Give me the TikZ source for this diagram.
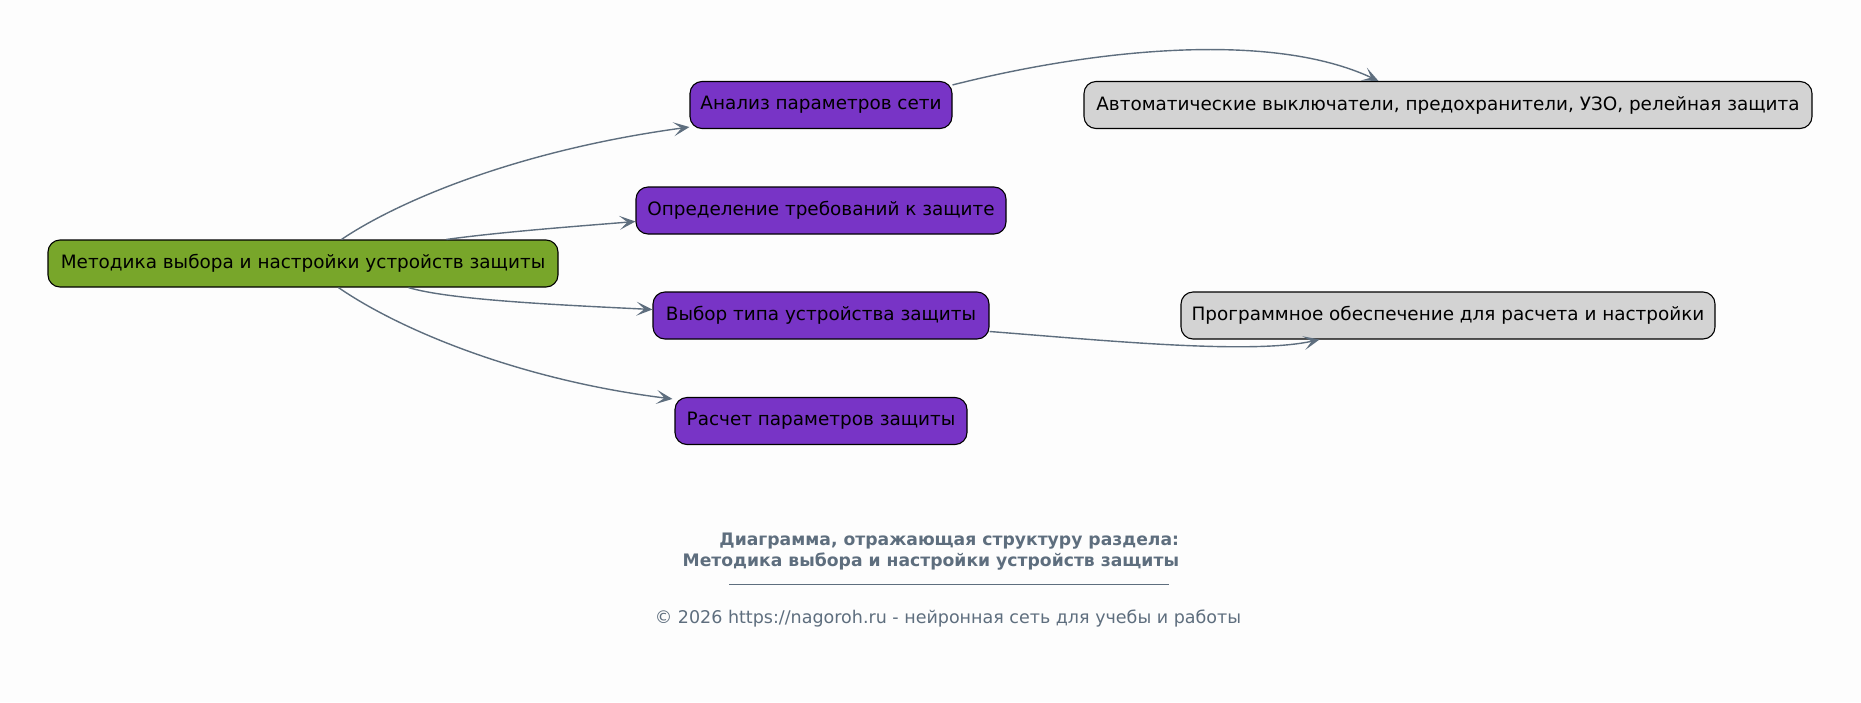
\documentclass[tikz,border=0pt]{standalone}
\usepackage{fontspec}
\setmainfont{DejaVu Sans}
\usetikzlibrary{arrows.meta}
\definecolor{bgc}{HTML}{FDFDFD}
\definecolor{rootc}{HTML}{78A62A}
\definecolor{purp}{HTML}{7834C6}
\definecolor{grayc}{HTML}{D3D3D3}
\definecolor{edgec}{HTML}{5E6E7E}
\tikzset{
  box/.style={draw=black, line width=1.1pt, rounded corners=12pt, minimum height=47pt,
    inner xsep=0pt, font=\fontsize{18.4}{20}\selectfont, text=black},
  rootbox/.style={box, fill=rootc},
  subbox/.style={box, fill=purp},
  leafbox/.style={box, fill=grayc},
  conn/.style={draw=edgec, line width=1.4pt, -{Stealth[length=16pt,width=14pt,inset=8pt]}},
}
\begin{document}
\begin{tikzpicture}[x=1pt,y=-1pt]
\fill[bgc] (0,0) rectangle (1861,702);
\useasboundingbox (0,0) rectangle (1861,702);
\node[rootbox, minimum width=510pt] (root) at (303,263.5) {Методика выбора и настройки устройств защиты};
\node[subbox, minimum width=262pt] (a) at (821,105) {Анализ параметров сети};
\node[subbox, minimum width=370pt] (b) at (821,210.5) {Определение требований к защите};
\node[subbox, minimum width=336pt] (c) at (821,315.5) {Выбор типа устройства защиты};
\node[subbox, minimum width=292pt] (d) at (821,421) {Расчет параметров защиты};
\node[leafbox, minimum width=728pt] (e) at (1448,105) {Автоматические выключатели, предохранители, УЗО, релейная защита};
\node[leafbox, minimum width=534pt] (f) at (1448,315.5) {Программное обеспечение для расчета и настройки};

\draw[conn] ([xshift=294pt]root.north west) .. controls (400,200) and (520,150) .. ([yshift=2pt]a.south west);
\draw[conn] ([xshift=399pt]root.north west) .. controls (500,232) and (580,226) .. ([yshift=-11pt]b.west);
\draw[conn] ([xshift=361pt]root.south west) .. controls (450,300) and (560,305) .. ([yshift=6pt]c.west);
\draw[conn] ([xshift=291pt]root.south west) .. controls (400,330) and (520,380) .. ([xshift=-2pt,yshift=-2pt]d.north west);
\draw[conn] ([yshift=-4pt]a.north east) .. controls (1090,50) and (1270,30) .. ([xshift=295pt]e.north west);
\draw[conn] ([yshift=-16pt]c.east) .. controls (1100,340) and (1250,355) .. ([xshift=139pt]f.south west);

\node[anchor=east, align=right, text=edgec, font=\bfseries\fontsize{17.2}{20.5}\selectfont] (title) at (1182.5,551.5)
  {Диаграмма, отражающая структуру раздела:\\Методика выбора и настройки устройств защиты};
\coordinate (r1) at (729,584);
\coordinate (r2) at (1169,584);
\draw[edgec, line width=0.8pt] (r1) -- (r2);
\node[text=edgec, font=\fontsize{17.5}{20}\selectfont] (copy) at (948,619) {© 2026 https://nagoroh.ru - нейронная сеть для учебы и работы};
\end{tikzpicture}
\end{document}
